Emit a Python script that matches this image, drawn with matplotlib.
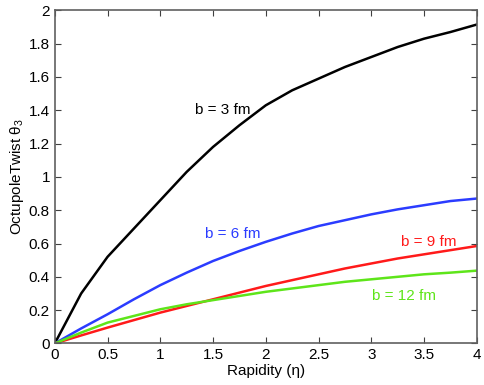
import matplotlib
matplotlib.use("Agg")
import matplotlib.pyplot as plt

# rapidity grid and twist values
eta = [0, 0.25, 0.5, 0.75, 1.0, 1.25, 1.5, 1.75, 2.0, 2.25, 2.5, 2.75, 3.0, 3.25, 3.5, 3.75, 4.0]

theta_b3 = [0, 0.30, 0.52, 0.69, 0.86, 1.03, 1.18, 1.31, 1.43, 1.52, 1.59, 1.66, 1.72, 1.78, 1.83, 1.87, 1.915]
theta_b6 = [0, 0.09, 0.175, 0.265, 0.35, 0.425, 0.495, 0.555, 0.61, 0.66, 0.705, 0.74, 0.775, 0.805, 0.83, 0.855, 0.87]
theta_b9 = [0, 0.048, 0.095, 0.14, 0.185, 0.225, 0.265, 0.305, 0.345, 0.38, 0.415, 0.45, 0.48, 0.51, 0.535, 0.56, 0.585]
theta_b12 = [0, 0.065, 0.125, 0.165, 0.205, 0.235, 0.26, 0.285, 0.31, 0.33, 0.35, 0.37, 0.385, 0.40, 0.415, 0.425, 0.437]

labels = ["b = 3 fm", "b = 6 fm", "b = 9 fm", "b = 12 fm"]
colors = ["black", "#2b3cff", "#ff1a1a", "#5ee51a"]

plt.rcParams["font.family"] = ["Liberation Sans", "DejaVu Sans"]
plt.rcParams["mathtext.fontset"] = "custom"
plt.rcParams["mathtext.rm"] = "Liberation Sans"
plt.rcParams["mathtext.it"] = "Liberation Sans"

fig = plt.figure(figsize=(4.85, 3.85), dpi=100)
ax = fig.add_axes([0.113, 0.108, 0.87, 0.865])

series = [theta_b3, theta_b6, theta_b9, theta_b12]
for vals, col in zip(series, colors):
    ax.plot(eta, vals, color=col, linewidth=1.8)

# curve labels
ax.text(1.33, 1.40, labels[0], color=colors[0], fontsize=11, va="center")
ax.text(1.42, 0.66, labels[1], color=colors[1], fontsize=11, va="center")
ax.text(3.28, 0.61, labels[2], color=colors[2], fontsize=11, va="center")
ax.text(3.01, 0.285, labels[3], color=colors[3], fontsize=11, va="center")

ax.set_xlim(0, 4)
ax.set_ylim(0, 2)
ax.set_xticks([0, 0.5, 1, 1.5, 2, 2.5, 3, 3.5, 4])
ax.set_xticklabels(["0", "0.5", "1", "1.5", "2", "2.5", "3", "3.5", "4"])
ax.set_yticks([0, 0.2, 0.4, 0.6, 0.8, 1.0, 1.2, 1.4, 1.6, 1.8, 2.0])
ax.set_yticklabels(["0", "0.2", "0.4", "0.6", "0.8", "1", "1.2", "1.4", "1.6", "1.8", "2"])

ax.tick_params(direction="in", top=True, right=True, length=4, labelsize=11, colors="#404040")
ax.tick_params(labelcolor="black")
for s in ax.spines.values():
    s.set_color("#606060")
    s.set_linewidth(1.2)

ax.set_xlabel("Rapidity (\u03b7)", fontsize=11, labelpad=1)
ax.set_ylabel("OctupoleTwist \u03b8$_3$", fontsize=11, labelpad=2)

fig.savefig("out.png", dpi=100)
